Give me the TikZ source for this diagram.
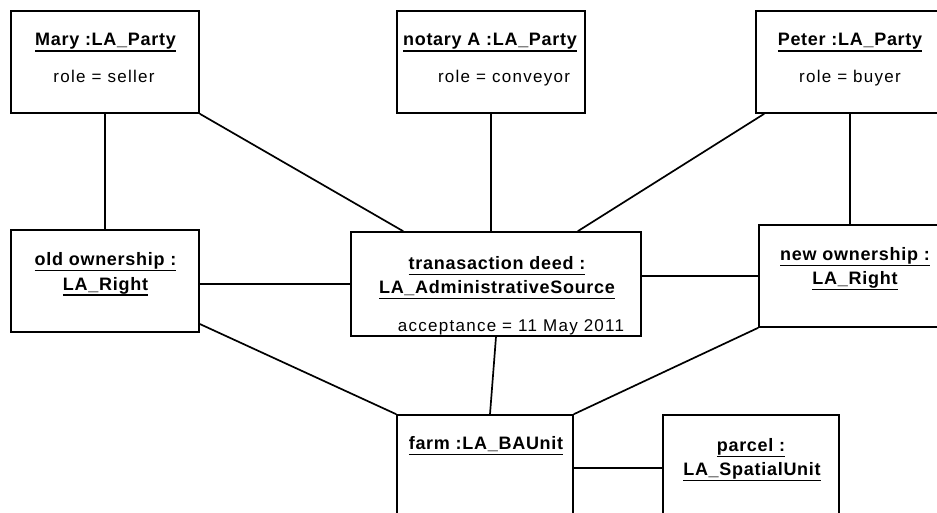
\documentclass[tikz,border=0pt]{standalone}
\usepackage{fontspec}
\setmainfont{Liberation Sans}
\usetikzlibrary{calc}

% underlined object name (UML instance)
\newcommand{\objline}[1]{\setbox0=\hbox{#1}\rlap{\rule[-5.6pt]{\wd0}{1.5pt}}\box0}

\begin{document}
\begin{tikzpicture}[x=1pt,y=-1pt,
  obj/.style={draw,line width=1.6pt,inner sep=0pt,minimum width=188pt,minimum height=102pt},
  oname/.style={anchor=base,inner sep=0pt,font=\fontsize{18}{22}\selectfont\bfseries\addfontfeature{LetterSpace=4}},
  oattr/.style={anchor=base,inner sep=0pt,font=\fontsize{17}{20}\selectfont\addfontfeature{LetterSpace=7.5}},
  link/.style={line width=1.7pt}]
\useasboundingbox (0,0) rectangle (937,513);
\clip (0,0) rectangle (937,513);
% parties
\node[obj] (mary) at (105,62) {};
\node[oname] (maryname) at (105.5,46) {\objline{Mary :LA\_Party}};
\node[oattr] (maryrole) at (104,83) {role = seller};
\node[obj] (notary) at (491,62) {};
\node[oname] (notaryname) at (490,46) {\objline{notary A :LA\_Party}};
\node[oattr] (notaryrole) at (504,83) {role = conveyor};
\node[obj] (peter) at (850,62) {};
\node[oname] (petername) at (850,46) {\objline{Peter :LA\_Party}};
\node[oattr] (peterrole) at (850,83) {role = buyer};
% rights and source
\node[obj] (oldown) at (105,281) {};
\node[oname] (oldname) at (105.5,265.5) {\objline{old ownership :}};
\node[oname] (oldtype) at (105.5,290) {\objline{LA\_Right}};
\node[obj,minimum width=290pt,minimum height=104pt] (deed) at (496,284) {};
\node[oname] (deedname) at (497,269.5) {\objline{tranasaction deed :}};
\node[oname] (deedtype) at (497,293.5) {\objline{LA\_AdministrativeSource}};
\node[oattr] (deedattr) at (511,331) {acceptance = 11 May 2011};
\node[obj] (newown) at (853,276) {};
\node[oname] (newname) at (855,260.5) {\objline{new ownership :}};
\node[oname] (newtype) at (855,284.5) {\objline{LA\_Right}};
% units
\node[obj,minimum width=176pt,minimum height=106pt] (farm) at (485,468) {};
\node[oname] (farmname) at (486,449.5) {\objline{farm :LA\_BAUnit}};
\node[obj,minimum width=176pt,minimum height=106pt] (parcel) at (751,468) {};
\node[oname] (parcelname) at (751,451.5) {\objline{parcel :}};
\node[oname] (parceltype) at (752,475.5) {\objline{LA\_SpatialUnit}};
% links
\draw[link] (mary.south) -- (mary.south |- oldown.north);
\draw[link] (mary.south east) -- ([xshift=53pt]deed.north west);
\draw[link] (notary.south) -- (notary.south |- deed.north);
\draw[link] ([xshift=9pt]peter.south west) -- ([xshift=-64pt]deed.north east);
\draw[link] (peter.south) -- (peter.south |- newown.north);
\draw[link] (deed.west) -- (deed.west -| oldown.east);
\draw[link] (newown.west) -- (newown.west -| deed.east);
\draw[link] ([yshift=-43pt]oldown.east) -- (farm.north west);
\draw[link] (deed.south) -- ([xshift=5pt]farm.north);
\draw[link] (newown.south west) -- (farm.north east);
\draw[link] (farm.east) -- (parcel.west);
\end{tikzpicture}
\end{document}
